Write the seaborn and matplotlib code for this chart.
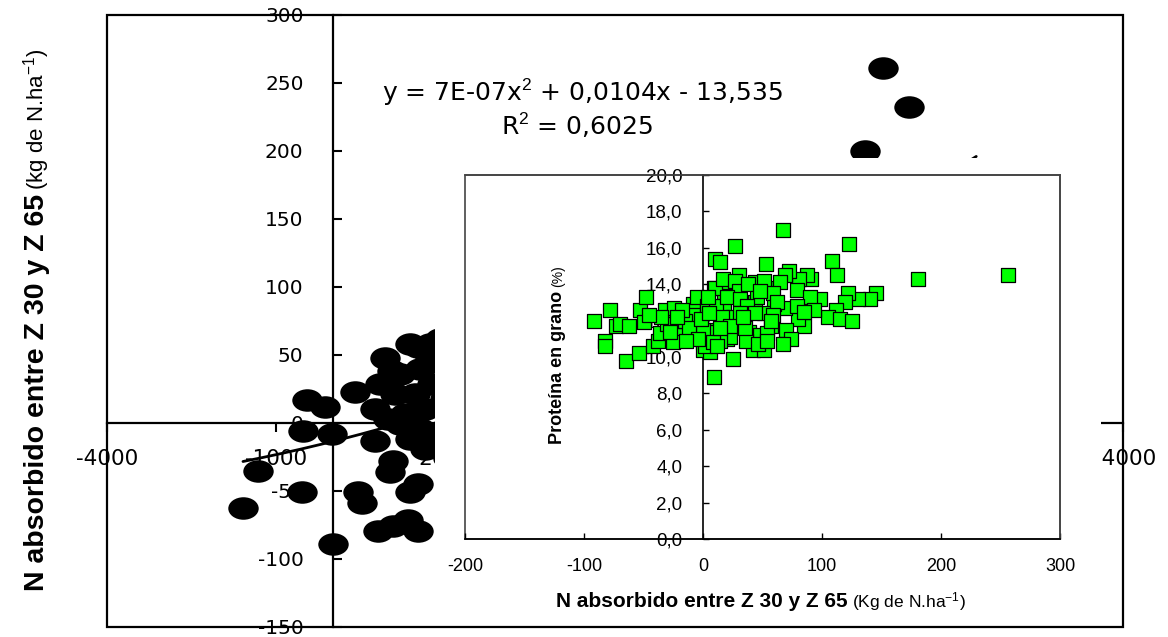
import matplotlib
matplotlib.use("Agg")
import matplotlib.pyplot as plt
from matplotlib.path import Path
from matplotlib.patches import Rectangle
from matplotlib.ticker import FixedLocator, FixedFormatter
import numpy as np
import pandas as pd
import seaborn as sns

# ---------------- data ----------------
main_x = [-457, -138, -528, -14, 393, 925, 1510, -1325, -546, -1591, 446, 517, 0, 748, 1067, 1014, 1368, 1510, 801, 1067, 1333, 1510,
          748, 1102, 1191, 1545, 1722, 1368, 1049, 836, 1456, 1634, 1279, 1545, 1758, 1634, 1368, 1191, 978, 1758, 1722, 1988, 1988, 1988, 1900,
          9748, 10207, 9427]
main_y = [17, 12, -6, -8, 22.5, 48, 56, -35.5, -51, -62.6, -51, -58.5, -89, -13.4, -28, -36, -51, -45, -79.5, -76, -71, -79.5,
          10.1, 21.1, 35.8, 39.4, 57.8, 57.8, 38.0, 28.4, 21.1, 10.1, 6.4, -4.6, -12.0, -19.3, -12.0, -1.0, 2.7, 28.4, 46.8, 17.4, -4.6, 46.8, 61.5,
          261, 232.5, 200]
trend_coef = [7e-07, 0.0104, -13.535]
trend_x_range = [-1591, 11400]
eq_text = "y = 7E-07x$^{2}$ + 0,0104x - 13,535"
r2_text = "R$^{2}$ = 0,6025"

main_xticks = [-4000, -1000, 2000, 5000, 8000, 11000, 14000]
main_xticklabels = ["-4000", "-1000", "2000", "5000", "8000", "11000", "14000"]
main_yticks = [-150, -100, -50, 0, 50, 100, 150, 200, 250, 300]
main_yticklabels = ["-150", "-100", "-50", "0", "50", "100", "150", "200", "250", "300"]

inset_x = [-92, -78, -82, -82, -73, -70, -62, -65, -54, -53, -48, -50, -42, -38, -36, -32, -24, -20, -10, -25,
           -8, -5, -8, 0, 0, 3, 3, 9, 9, 10, 14, 18, 18, 18, 17, 20, 25, 27, 28, 25,
           67, 53, 123, 108, 113, 181, 256, 145, 140, 130, 122, 119, 112, 105, 115, 125, 98, 91, 87, 81,
           72, 69, 79, 90, 93, 85, 80, 70, 74, 67, 57, 69, 60, 53, 44, 51, 65, 44, 51, 31,
           39, 48, 42, 51, 36, 5, 9, 0, 11, 10, 17, 30, 27, 30, 20, 31, 45, 37, 59, 62,
           79, 85, 59, 44, 25, 16, 31, 23, 35, 54, 46, 23, 6, 2, 14, 54,
           -30, -15, -12, -28, -18, -2, 5, -22, -35, -4, 8, -14, 12, 4, -45, 14, 38, 48, 34, 57]
inset_y = [12.0, 12.6, 10.9, 10.6, 11.7, 11.8, 11.7, 9.8, 10.2, 12.6, 13.3, 11.9, 10.6, 10.9, 11.3, 12.6, 12.7, 11.2, 11.2, 10.8,
           12.9, 13.3, 12.3, 10.8, 10.4, 12.8, 11.5, 13.8, 8.9, 15.4, 15.2, 14.1, 13.3, 12.8, 11.9, 11.0, 9.9, 16.1, 14.1, 12.0,
           17.0, 15.1, 16.2, 15.3, 14.5, 14.3, 14.5, 13.5, 13.2, 13.2, 13.5, 13.0, 12.6, 12.2, 12.1, 12.0, 13.2, 14.3, 14.5, 14.3,
           14.7, 14.5, 13.7, 13.3, 12.6, 11.7, 12.1, 11.5, 11.0, 10.7, 11.7, 12.7, 12.9, 13.8, 14.1, 14.2, 14.1, 13.0, 12.4, 11.9,
           11.4, 11.2, 10.4, 10.4, 10.9, 10.9, 11.4, 11.5, 12.8, 13.8, 14.3, 14.5, 14.2, 13.6, 13.3, 13.2, 13.3, 12.8, 13.5, 13.0,
           12.8, 12.5, 12.3, 12.4, 12.2, 12.2, 12.4, 11.1, 11.6, 11.3, 10.7, 11.7, 10.3, 10.6, 10.9, 10.9,
           11.8, 12.0, 11.6, 11.4, 12.6, 12.1, 12.4, 12.2, 12.2, 11.0, 10.8, 10.9, 10.6, 13.3, 12.3, 11.6, 14.0, 13.6, 12.2, 12.0]
inset_xticks = [-200, -100, 0, 100, 200, 300]
inset_xticklabels = ["-200", "-100", "0", "100", "200", "300"]
inset_yticks = [0, 2, 4, 6, 8, 10, 12, 14, 16, 18, 20]
inset_yticklabels = ["0,0", "2,0", "4,0", "6,0", "8,0", "10,0", "12,0", "14,0", "16,0", "18,0", "20,0"]

main_ylabel_bold = "N absorbido entre Z 30 y Z 65"
main_ylabel_unit = "(kg de N.ha$^{-1}$)"
inset_xlabel_bold = "N absorbido entre Z 30 y Z 65"
inset_xlabel_unit = "(Kg de N.ha$^{-1}$)"
inset_ylabel_bold = "Proteína en grano"
inset_ylabel_unit = "(%)"

# ---------------- style ----------------
sns.set_theme(style="white")
plt.rcParams["font.family"] = ["Liberation Sans", "DejaVu Sans"]
plt.rcParams["mathtext.fontset"] = "custom"
plt.rcParams["mathtext.rm"] = "Liberation Sans"
plt.rcParams["mathtext.it"] = "Liberation Sans:italic"
plt.rcParams["mathtext.bf"] = "Liberation Sans:bold"
plt.rcParams["axes.unicode_minus"] = False

wide = "DejaVu Sans"

W, H = 1168, 637
fig = plt.figure(figsize=(W / 100, H / 100), dpi=100)
fig.patch.set_facecolor("white")


def rect(l, t, r, b):
    return [l / W, 1 - b / H, (r - l) / W, (b - t) / H]


# ---------------- main axes ----------------
ax = fig.add_axes(rect(107, 15, 1123, 627), zorder=0)
ax.set_facecolor("white")
ellipse = Path(Path.unit_circle().vertices * np.array([1.0, 0.74]), Path.unit_circle().codes)
df_main = pd.DataFrame({"x": main_x, "y": main_y})
sns.scatterplot(data=df_main, x="x", y="y", marker=ellipse, s=480, color="black",
                edgecolor="black", linewidth=0, ax=ax, legend=False, zorder=3)
tx = np.linspace(trend_x_range[0], trend_x_range[1], 300)
sns.lineplot(x=tx, y=np.polyval(trend_coef, tx), color="black", linewidth=2, ax=ax, zorder=4)

ax.set_xlim(-4000, 14000)
ax.set_ylim(-150, 300)
ax.set_xlabel("")
ax.set_ylabel("")
for s in ["left", "bottom"]:
    ax.spines[s].set_position(("data", 0))
    ax.spines[s].set_color("black")
    ax.spines[s].set_linewidth(1.6)
for s in ["top", "right"]:
    ax.spines[s].set_visible(False)
ax.add_patch(Rectangle((0, 0), 1, 1, transform=ax.transAxes, fill=False, lw=1.6,
                       ec="black", clip_on=False, zorder=5))
ax.xaxis.set_major_locator(FixedLocator(main_xticks))
ax.xaxis.set_major_formatter(FixedFormatter(main_xticklabels))
ax.yaxis.set_major_locator(FixedLocator(main_yticks))
ax.yaxis.set_major_formatter(FixedFormatter(main_yticklabels))
ax.tick_params(axis="x", bottom=True, direction="out", length=6.5, width=1.5, pad=12,
               labelsize=15.5, labelcolor="black", color="black", labelfontfamily=wide)
ax.tick_params(axis="y", left=True, direction="in", length=6.5, width=1.5, pad=21,
               labelsize=14.5, labelcolor="black", color="black", labelfontfamily=wide)

fig.text(582 / W, 1 - 92 / H, eq_text, ha="center", va="center", fontsize=18, family=wide, color="black")
fig.text(577 / W, 1 - 125 / H, r2_text, ha="center", va="center", fontsize=18, family=wide, color="black")

# white background of the pasted inset chart
fig.add_artist(Rectangle((435 / W, 1 - 615 / H), (1101 - 435) / W, (615 - 158) / H,
                         transform=fig.transFigure, fc="white", ec="none", zorder=1))

# ---------------- inset axes ----------------
axi = fig.add_axes(rect(465, 175, 1060, 539), zorder=2)
axi.set_facecolor("white")
df_in = pd.DataFrame({"x": inset_x, "y": inset_y})
sns.scatterplot(data=df_in, x="x", y="y", marker="s", s=100, color="#00FF00",
                edgecolor="black", linewidth=0.9, ax=axi, legend=False, zorder=3)
axi.set_xlim(-200, 300)
axi.set_ylim(0, 20)
axi.set_xlabel("")
axi.set_ylabel("")
axi.spines["left"].set_position(("data", 0))
axi.spines["left"].set_color("black")
axi.spines["left"].set_linewidth(1.2)
axi.spines["bottom"].set_color("black")
axi.spines["bottom"].set_linewidth(1.2)
for s in ["top", "right"]:
    axi.spines[s].set_color("#444444")
    axi.spines[s].set_linewidth(1.2)
axi.add_patch(Rectangle((0, 0), 1, 1, transform=axi.transAxes, fill=False, lw=1.2,
                        ec="#444444", clip_on=False, zorder=0.5))
axi.xaxis.set_major_locator(FixedLocator(inset_xticks))
axi.xaxis.set_major_formatter(FixedFormatter(inset_xticklabels))
axi.yaxis.set_major_locator(FixedLocator(inset_yticks))
axi.yaxis.set_major_formatter(FixedFormatter(inset_yticklabels))
axi.tick_params(axis="x", bottom=True, direction="in", length=4, width=1, pad=14,
                labelsize=13, labelcolor="black", color="black")
axi.tick_params(axis="y", left=True, direction="in", length=4.5, width=1, pad=15,
                labelsize=13.5, labelcolor="black", color="black")

# ---------------- two-part labels ----------------
renderer = fig.canvas.get_renderer()


def two_part(x_px, y_px, t1, t2, kw1, kw2, rotation=0, gap=5):
    a = fig.text(0, 0, t1, rotation=rotation, rotation_mode="anchor", ha="left",
                 va="baseline", color="black", **kw1)
    b = fig.text(0, 0, t2, rotation=rotation, rotation_mode="anchor", ha="left",
                 va="baseline", color="black", **kw2)
    ea = a.get_window_extent(renderer)
    eb = b.get_window_extent(renderer)
    if rotation == 0:
        total = ea.width + gap + eb.width
        x0 = x_px - total / 2
        a.set_position((x0 / W, 1 - y_px / H))
        b.set_position(((x0 + ea.width + gap) / W, 1 - y_px / H))
    else:
        total = ea.height + gap + eb.height
        y0 = (H - y_px) - total / 2
        a.set_position((x_px / W, y0 / H))
        b.set_position((x_px / W, (y0 + ea.height + gap) / H))


two_part(44, 320, main_ylabel_bold, main_ylabel_unit,
         dict(family="Liberation Sans", fontweight="bold", fontsize=20.5),
         dict(family="Liberation Sans", fontsize=16), rotation=90, gap=4)
two_part(761, 607, inset_xlabel_bold, inset_xlabel_unit,
         dict(family="Liberation Sans", fontweight="bold", fontsize=15),
         dict(family="Liberation Sans", fontsize=12.5), rotation=0, gap=4)
two_part(562, 355, inset_ylabel_bold, inset_ylabel_unit,
         dict(family="Liberation Sans", fontweight="bold", fontsize=13),
         dict(family="Liberation Sans", fontsize=10), rotation=90, gap=4)

fig.savefig("out.png", dpi=100, facecolor="white")
